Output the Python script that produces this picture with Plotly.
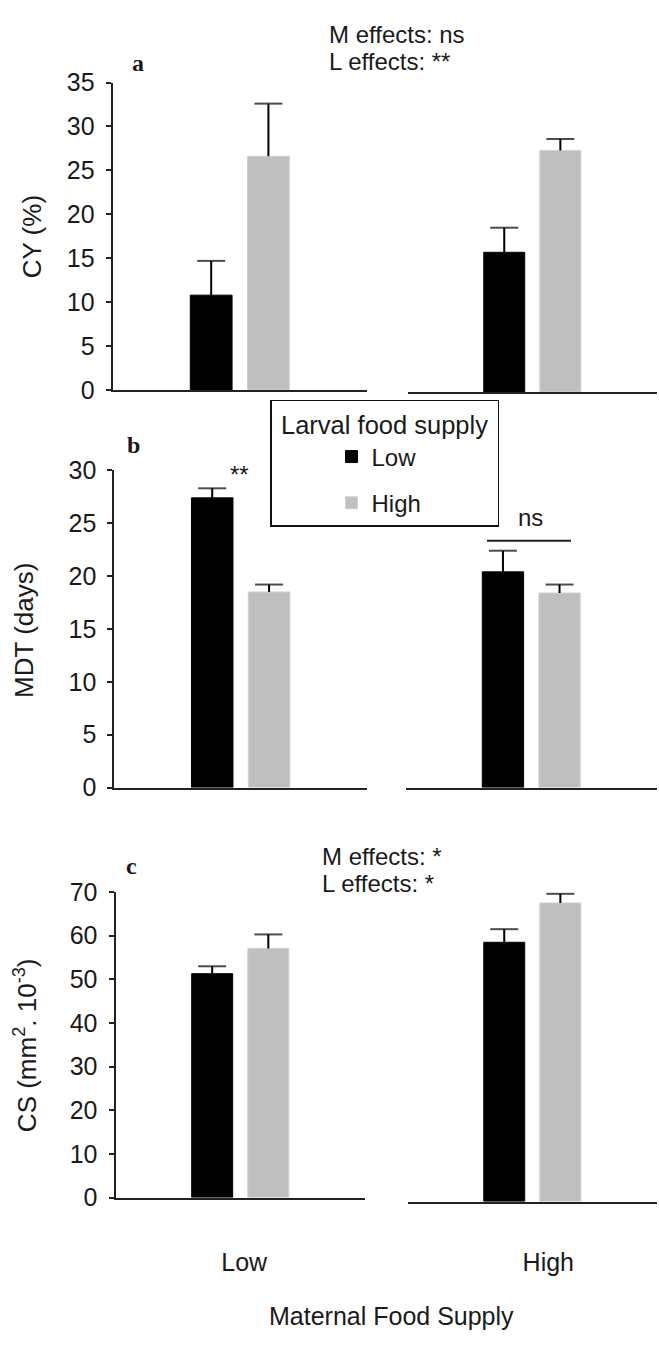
import plotly.graph_objects as go

# ---------------- data ----------------
maternal = ["Low", "High"]          # maternal food supply (x categories)
larval = ["Low", "High"]            # larval food supply (series)

# a) CY (%)
cy_low_larval = [10.8, 15.9]
cy_low_larval_se = [3.9, 2.8]
cy_high_larval = [26.6, 27.5]
cy_high_larval_se = [6.0, 1.3]

# b) MDT (days)
mdt_low_larval = [27.4, 20.4]
mdt_low_larval_se = [0.9, 2.0]
mdt_high_larval = [18.5, 18.4]
mdt_high_larval_se = [0.7, 0.8]

# c) CS (mm2 . 10^-3)
cs_low_larval = [51.3, 59.4]
cs_low_larval_se = [1.7, 3.0]
cs_high_larval = [57.1, 68.4]
cs_high_larval_se = [3.2, 2.1]

# ---------------- layout helpers ----------------
W, H = 659, 1349
FONT = "Liberation Sans, Arial, sans-serif"
TXT = "#1a1a1a"
BLACK = "#000000"
GRAY = "#bfbfbf"
BARGAP = 0.55


def px(x):
    return x / W


def py(y):
    return 1 - y / H


panels = [
    dict(low=cy_low_larval, low_se=cy_low_larval_se, high=cy_high_larval, high_se=cy_high_larval_se,
         ymax=35, dtick=5, y0_left=384, ytop_left=70, y0_right=386,
         xl=(112.6, 367), xr=(407.6, 657)),
    dict(low=mdt_low_larval, low_se=mdt_low_larval_se, high=mdt_high_larval, high_se=mdt_high_larval_se,
         ymax=30, dtick=5, y0_left=790, ytop_left=466, y0_right=790,
         xl=(114.3, 367), xr=(405.5, 657)),
    dict(low=cs_low_larval, low_se=cs_low_larval_se, high=cs_high_larval, high_se=cs_high_larval_se,
         ymax=70, dtick=10, y0_left=1208.7, ytop_left=896.7, y0_right=1212.7,
         xl=(115.5, 365), xr=(407.6, 657)),
]

fig = go.Figure()
layout = {}
axis_idx = 0
for p_i, p in enumerate(panels):
    scale = (p["y0_left"] - p["ytop_left"]) / p["ymax"]  # px per unit
    for side in (0, 1):  # 0 = maternal Low (left, with y axis), 1 = maternal High
        axis_idx += 1
        xname = "xaxis" if axis_idx == 1 else f"xaxis{axis_idx}"
        yname = "yaxis" if axis_idx == 1 else f"yaxis{axis_idx}"
        xref = "x" if axis_idx == 1 else f"x{axis_idx}"
        yref = "y" if axis_idx == 1 else f"y{axis_idx}"
        xd = p["xl"] if side == 0 else p["xr"]
        if side == 0:
            ymax_r = p["ymax"]
            y0 = p["y0_left"]
        else:
            ymax_r = p["ymax"] * 1.15
            y0 = p["y0_right"]
        ytop = y0 - scale * ymax_r
        xax = dict(
            domain=[px(xd[0]), px(xd[1])], anchor=yref, type="category",
            range=[-0.5, 0.5], showline=True, linewidth=2, linecolor="#222",
            ticks="", showgrid=False, zeroline=False, fixedrange=True,
            showticklabels=False,
        )
        if p_i == 2:
            xax.update(showticklabels=True,
                       tickfont=dict(family=FONT, size=25, color=TXT),
                       ticklabelstandoff=(41 if side == 0 else 37),
                       ticklabelshift=(4 if side == 0 else 16))
        layout[xname] = xax
        yax = dict(
            domain=[py(y0), py(ytop)], anchor=xref, range=[0, ymax_r],
            showgrid=False, zeroline=False, fixedrange=True,
            visible=(side == 0),
        )
        if side == 0:
            yax.update(showline=True, linewidth=2, linecolor="#222",
                       ticks="outside", ticklen=5, tickwidth=1.5, tickcolor="#222",
                       dtick=p["dtick"], tick0=0,
                       tickfont=dict(family=FONT, size=25, color=TXT),
                       ticklabelstandoff=6)
        layout[yname] = yax
        m = maternal[side]
        series = ((p["low"], p["low_se"], BLACK, "#000"),
                  (p["high"], p["high_se"], GRAY, "#d0d0d0"))
        for li, (vals, ses, col, edge) in enumerate(series):
            fig.add_trace(go.Bar(
                x=[m], y=[vals[side]], xaxis=xref, yaxis=yref,
                name=larval[li], legendgroup=larval[li], offsetgroup=larval[li],
                showlegend=(axis_idx == 1),
                marker=dict(color=col, line=dict(color=edge, width=1)),
                cliponaxis=False,
            ))
        # upper error bars (mean -> mean + SE), aligned with the bars' offset groups
        for li, (vals, ses, col, edge) in enumerate(series):
            fig.add_trace(go.Scatter(
                x=[m, m], y=[vals[side], vals[side] + ses[side]], xaxis=xref, yaxis=yref,
                mode="lines+markers", offsetgroup=larval[li], showlegend=False,
                hoverinfo="skip", cliponaxis=False,
                line=dict(color="#000", width=2),
                marker=dict(symbol="line-ew-open", size=[0, 20], color="#000",
                            line=dict(color="#000", width=2)),
            ))

annotations = [
    dict(text="M effects: ns", x=px(327), y=py(21), xanchor="left", yanchor="middle",
         font=dict(family=FONT, size=24, color=TXT)),
    dict(text="L effects: **", x=px(327), y=py(48), xanchor="left", yanchor="middle",
         font=dict(family=FONT, size=24, color=TXT)),
    dict(text="M effects: *", x=px(320), y=py(860), xanchor="left", yanchor="middle",
         font=dict(family=FONT, size=24, color=TXT)),
    dict(text="L effects: *", x=px(320), y=py(888), xanchor="left", yanchor="middle",
         font=dict(family=FONT, size=24, color=TXT)),
    dict(text="<b>a</b>", x=px(138), y=py(50), xanchor="center", yanchor="middle",
         font=dict(family="Liberation Serif, Times New Roman, serif", size=24, color=TXT)),
    dict(text="<b>b</b>", x=px(133.5), y=py(440), xanchor="center", yanchor="middle",
         font=dict(family="Liberation Serif, Times New Roman, serif", size=24, color=TXT)),
    dict(text="<b>c</b>", x=px(131), y=py(870), xanchor="center", yanchor="middle",
         font=dict(family="Liberation Serif, Times New Roman, serif", size=24, color=TXT)),
    dict(text="**", x=px(239), y=py(470), xanchor="center", yanchor="middle",
         font=dict(family=FONT, size=24, color=TXT)),
    dict(text="ns", x=px(530), y=py(514), xanchor="center", yanchor="middle",
         font=dict(family=FONT, size=24, color=TXT)),
    dict(text="CY (%)", x=px(32), y=py(228), xanchor="center", yanchor="middle", textangle=-90,
         font=dict(family=FONT, size=26, color=TXT)),
    dict(text="MDT (days)", x=px(24), y=py(630), xanchor="center", yanchor="middle", textangle=-90,
         font=dict(family=FONT, size=26, color=TXT)),
    dict(text="CS (mm<sup>2</sup>. 10<sup>-3</sup>)", x=px(25), y=py(1053), xanchor="center",
         yanchor="middle", textangle=-90, font=dict(family=FONT, size=26, color=TXT)),
    dict(text="Maternal Food Supply", x=px(391), y=py(1330), xanchor="center", yanchor="middle",
         font=dict(family=FONT, size=25, color=TXT)),
]
for a in annotations:
    a.update(xref="paper", yref="paper", showarrow=False)

shapes = [
    dict(type="line", xref="paper", yref="paper", x0=px(487), x1=px(571), y0=py(538), y1=py(538),
         line=dict(color="#222", width=2)),
]

fig.update_layout(
    width=W, height=H, margin=dict(l=0, r=0, t=0, b=0),
    paper_bgcolor="white", plot_bgcolor="white",
    barmode="group", bargap=BARGAP, bargroupgap=0.27,
    scattermode="group", scattergap=BARGAP,
    font=dict(family=FONT, color=TXT),
    annotations=annotations, shapes=shapes,
    showlegend=True,
    legend=dict(
        x=px(270), y=py(394), xanchor="left", yanchor="top",
        bgcolor="white", bordercolor="#111", borderwidth=1.5,
        font=dict(family=FONT, size=24, color=TXT),
        title=dict(text="\u00a0Larval food supply\u00a0", side="top center",
                   font=dict(family=FONT, size=25.5, color=TXT)),
        traceorder="grouped", tracegroupgap=12, indentation=60,
    ),
    **layout,
)

fig.write_html("out.html", config={"displayModeBar": False},
               post_script="document.body.style.margin='0';")
